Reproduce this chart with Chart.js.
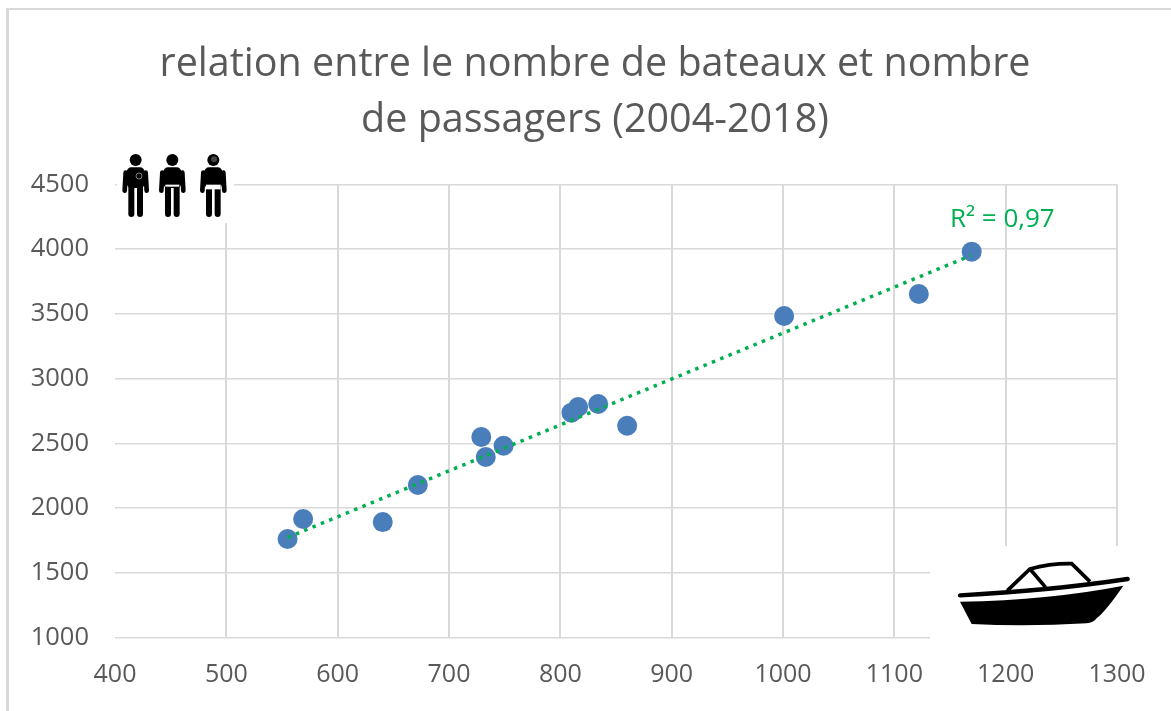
<!DOCTYPE html>
<html>
<head>
<meta charset="utf-8">
<script src="https://cdn.jsdelivr.net/npm/chart.js@4"></script>
<style>
  html, body { margin: 0; background: #fff; overflow: hidden; }
  #wrap { position: relative; width: 1171px; height: 711px; overflow: hidden; }
  canvas { position: absolute; left: 0; top: 0; }
  /* frame of the original chart: only top and left edges are in the crop */
  .edge { position: absolute; background: #D9D9D9; }
  #edgeTop { left: 6px; top: 8px; width: 1165px; height: 2px; }
  #edgeLeft { left: 6px; top: 8px; width: 3px; height: 703px; }
  svg { position: absolute; }
</style>
</head>
<body>
<div id="wrap">
  <!-- wider than the window so the centred title lands where it does in the original -->
  <canvas id="chart" width="1190" height="711"></canvas>
  <div class="edge" id="edgeTop"></div>
  <div class="edge" id="edgeLeft"></div>

  <!-- passengers icon -->
  <svg style="left:0;top:140px" width="300" height="130" viewBox="0 0 900 390">
    <defs>
      <g id="person" fill="#000" stroke="#000" stroke-linecap="round">
        <circle cx="0" cy="60" r="18" stroke="none"/>
        <rect x="-27" y="82" width="54" height="62" rx="14" stroke="none"/>
        <path d="M-30,98 L-33,152 M30,98 L33,152" stroke-width="14" fill="none"/>
        <path d="M-13,140 L-13,222 M13,140 L13,222" stroke-width="18" fill="none"/>
      </g>
    </defs>
    <rect x="351" y="18" width="351" height="231" fill="#fff"/>
    <use href="#person" x="407"/>
    <use href="#person" x="517"/>
    <use href="#person" x="640"/>
    <circle cx="417" cy="108" r="9" fill="none" stroke="#bbb" stroke-width="2"/>
    <rect x="496" y="134" width="42" height="6" fill="#fff"/>
    <rect x="618" y="134" width="44" height="14" fill="#fff"/>
    <circle cx="642" cy="58" r="9" fill="#444"/>
  </svg>

  <!-- boats icon -->
  <svg style="left:900px;top:520px" width="271" height="191" viewBox="0 0 813 573">
    <rect x="90" y="78" width="723" height="300" fill="#fff"/>
    <path d="M180,245 Q450,240 670,197 Q620,270 590,295 Q580,308 560,310 Q380,320 215,312 Z" fill="#000"/>
    <path d="M180,226 Q450,212 683,177" fill="none" stroke="#000" stroke-width="13" stroke-linecap="round"/>
    <path d="M322,212 L390,147 Q450,130 515,131 L570,185 M390,147 L437,202" fill="none" stroke="#000" stroke-width="11"/>
  </svg>
</div>

<script>
// ==============================
// DATA
// ==============================
const bateaux = [555, 569, 640.5, 672, 729, 733, 749, 810, 816, 834, 860, 1001, 1122, 1169.5];
const passagers = [1761, 1916, 1892, 2178, 2549, 2395, 2482, 2737, 2781, 2804, 2636, 3484, 3654, 3981];

const trendX = [555, 1169];
const trendY = [1773, 3952];

const titleLines = ["relation entre le nombre de bateaux et nombre", "de passagers (2004-2018)"];
const r2Label = "R² = 0,97";
const r2X = 1197;
const r2Y = 4232;

const GREY_TEXT = "#595959";
const GRID = "#D9D9D9";
const FONT = "'Open Sans', sans-serif";

// ==============================
// R2 LABEL
// ==============================
const r2Plugin = {
  id: "r2Plugin",
  afterDatasetsDraw(c) {
    const ctx = c.ctx;
    ctx.save();
    ctx.font = "26px " + FONT;
    ctx.fillStyle = "#00B050";
    ctx.textAlign = "center";
    ctx.textBaseline = "middle";
    ctx.fillText(r2Label, c.scales.x.getPixelForValue(r2X), c.scales.y.getPixelForValue(r2Y));
    ctx.restore();
  }
};

// ==============================
// CHART
// ==============================
new Chart(document.getElementById("chart").getContext("2d"), {
  type: "scatter",
  data: {
    datasets: [
      {
        label: "tendance",
        data: trendX.map((x, i) => ({ x: x, y: trendY[i] })),
        showLine: true,
        borderColor: "#00B050",
        borderWidth: 3.5,
        borderDash: [3.5, 5.5],
        pointRadius: 0,
        fill: false,
      },
      {
        label: "passagers",
        data: bateaux.map((x, i) => ({ x: x, y: passagers[i] })),
        backgroundColor: "#4A7EBB",
        borderColor: "#4A7EBB",
        pointRadius: 10,
        pointBorderWidth: 0,
      },
    ],
  },
  options: {
    responsive: false,
    animation: false,
    plugins: {
      legend: { display: false },
      tooltip: { enabled: false },
      title: {
        display: true,
        text: titleLines,
        color: GREY_TEXT,
        font: { family: FONT, size: 39.5, weight: "normal", lineHeight: 1.418 },
        padding: { top: 37, bottom: 35.5 },
      },
    },
    scales: {
      x: {
        type: "linear",
        min: 400,
        max: 1300,
        afterFit: s => { s.height = 73.5; },
        ticks: {
          stepSize: 100,
          color: GREY_TEXT,
          font: { family: FONT, size: 25 },
          padding: 22,
          maxRotation: 0,
          callback: v => String(v),
        },
        grid: {
          color: ctx => (ctx.tick && ctx.tick.value === 400 ? "rgba(0,0,0,0)" : GRID),
          lineWidth: 2,
          tickLength: 0,
        },
        border: { display: false },
      },
      y: {
        min: 1000,
        max: 4500,
        afterFit: s => { s.width = 115; },
        ticks: {
          stepSize: 500,
          color: GREY_TEXT,
          font: { family: FONT, size: 25.5 },
          padding: 26,
          callback: v => String(v),
        },
        grid: { color: GRID, lineWidth: 1.5, tickLength: 0 },
        border: { display: false },
      },
      // empty axis, only holds the margin right of the plot so the title stays centred on the canvas
      marge: {
        type: "linear",
        axis: "y",
        position: "right",
        afterFit: s => { s.width = 73; },
        ticks: { display: false },
        grid: { display: false },
        border: { display: false },
      },
    },
  },
  plugins: [r2Plugin],
});
</script>
</body>
</html>
